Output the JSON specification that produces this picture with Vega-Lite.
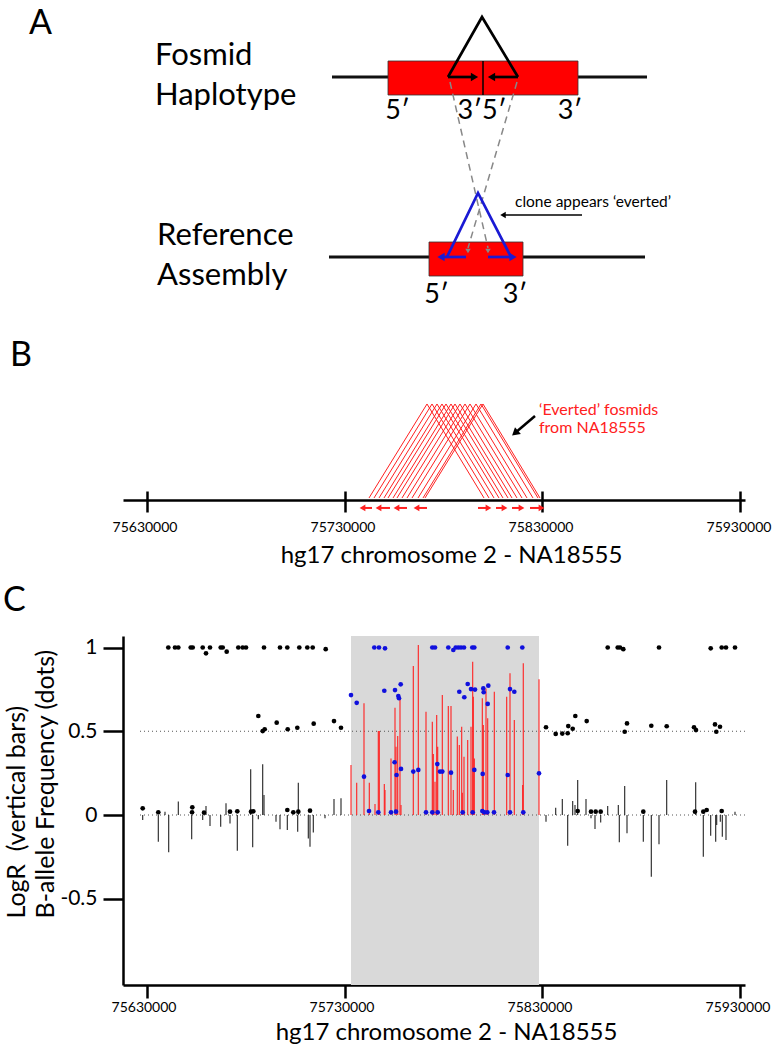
{
"$schema":"https://vega.github.io/schema/vega-lite/v6.json",
"width":622,"height":349,
"autosize":{"type":"none"},
"padding":{"left":123,"top":636,"right":28,"bottom":64},
"background":"#ffffff",
"config":{"view":{"stroke":null},"font":"Lato","text":{"font":"Lato"},
 "axis":{"labelFont":"Lato","titleFont":"Lato","titleFontWeight":"normal","labelColor":"#000000","titleColor":"#000000","domainColor":"#000000","tickColor":"#000000","grid":false,"labelOverlap":false,"labelBound":false}},
"datasets":{
 "c_region":[{"start":75733283,"end":75828232}],
 "c_ref":[{"level":0.5,"from":75626717,"to":75932273},{"level":0,"from":75626717,"to":75932273}],
 "c_logr":[
  {"pos":75628081,"logr":-0.03,"segment":"flank"},{"pos":75635960,"logr":-0.16,"segment":"flank"},{"pos":75639343,"logr":0.02,"segment":"flank"},{"pos":75641212,"logr":-0.223,"segment":"flank"},{"pos":75646061,"logr":0.08,"segment":"flank"},{"pos":75652828,"logr":-0.145,"segment":"flank"},{"pos":75658384,"logr":-0.03,"segment":"flank"},{"pos":75660050,"logr":0.054,"segment":"flank"},{"pos":75662071,"logr":-0.066,"segment":"flank"},{"pos":75667475,"logr":-0.07,"segment":"flank"},{"pos":75670152,"logr":0.07,"segment":"flank"},{"pos":75672172,"logr":-0.05,"segment":"flank"},{"pos":75675859,"logr":-0.213,"segment":"flank"},{"pos":75682626,"logr":0.273,"segment":"flank"},{"pos":75683636,"logr":-0.193,"segment":"flank"},{"pos":75686465,"logr":-0.026,"segment":"flank"},{"pos":75688687,"logr":0.303,"segment":"flank"},{"pos":75689343,"logr":0.12,"segment":"flank"},{"pos":75695404,"logr":-0.04,"segment":"flank"},{"pos":75697424,"logr":-0.085,"segment":"flank"},{"pos":75701111,"logr":-0.09,"segment":"flank"},{"pos":75706364,"logr":-0.1,"segment":"flank"},{"pos":75706667,"logr":0.193,"segment":"flank"},{"pos":75711717,"logr":-0.14,"segment":"flank"},{"pos":75712576,"logr":-0.19,"segment":"flank"},{"pos":75714242,"logr":-0.105,"segment":"flank"},{"pos":75720152,"logr":-0.02,"segment":"flank"},{"pos":75724697,"logr":0.095,"segment":"flank"},{"pos":75728232,"logr":0.1,"segment":"flank"},
  {"pos":75733283,"logr":0.299,"segment":"inversion"},{"pos":75736162,"logr":0.193,"segment":"inversion"},{"pos":75739848,"logr":0.667,"segment":"inversion"},{"pos":75742525,"logr":0.193,"segment":"inversion"},{"pos":75745404,"logr":0.066,"segment":"inversion"},{"pos":75747071,"logr":0.501,"segment":"inversion"},{"pos":75747576,"logr":0.501,"segment":"inversion"},{"pos":75750101,"logr":0.185,"segment":"inversion"},{"pos":75750455,"logr":0.15,"segment":"inversion"},{"pos":75753485,"logr":0.338,"segment":"inversion"},{"pos":75755505,"logr":0.641,"segment":"inversion"},{"pos":75756010,"logr":0.408,"segment":"inversion"},{"pos":75756869,"logr":0.472,"segment":"inversion"},{"pos":75758030,"logr":0.706,"segment":"inversion"},{"pos":75758535,"logr":0.06,"segment":"inversion"},{"pos":75764747,"logr":0.89,"segment":"inversion"},{"pos":75767273,"logr":1.015,"segment":"inversion"},{"pos":75771162,"logr":0.617,"segment":"inversion"},{"pos":75774343,"logr":0.557,"segment":"inversion"},{"pos":75774848,"logr":0.364,"segment":"inversion"},{"pos":75775707,"logr":0.199,"segment":"inversion"},{"pos":75776566,"logr":0.597,"segment":"inversion"},{"pos":75777071,"logr":0.408,"segment":"inversion"},{"pos":75779394,"logr":0.716,"segment":"inversion"},{"pos":75782424,"logr":0.651,"segment":"inversion"},{"pos":75783788,"logr":0.651,"segment":"inversion"},{"pos":75784949,"logr":0.15,"segment":"inversion"},{"pos":75786970,"logr":0.468,"segment":"inversion"},{"pos":75787980,"logr":0.418,"segment":"inversion"},{"pos":75789192,"logr":0.527,"segment":"inversion"},{"pos":75789495,"logr":0.133,"segment":"inversion"},{"pos":75790354,"logr":0.348,"segment":"inversion"},{"pos":75792222,"logr":0.448,"segment":"inversion"},{"pos":75793891,"logr":0.527,"segment":"inversion"},{"pos":75794747,"logr":0.915,"segment":"inversion"},{"pos":75795050,"logr":0.706,"segment":"inversion"},{"pos":75795556,"logr":0.338,"segment":"inversion"},{"pos":75799596,"logr":0.697,"segment":"inversion"},{"pos":75800101,"logr":0.537,"segment":"inversion"},{"pos":75801465,"logr":0.756,"segment":"inversion"},{"pos":75802323,"logr":0.577,"segment":"inversion"},{"pos":75805657,"logr":0.736,"segment":"inversion"},{"pos":75811919,"logr":0.706,"segment":"inversion"},{"pos":75813586,"logr":0.846,"segment":"inversion"},{"pos":75815758,"logr":0.567,"segment":"inversion"},{"pos":75819990,"logr":0.179,"segment":"inversion"},{"pos":75820293,"logr":0.906,"segment":"inversion"},{"pos":75828232,"logr":0.81,"segment":"inversion"},
  {"pos":75831768,"logr":-0.04,"segment":"flank"},{"pos":75836667,"logr":0.044,"segment":"flank"},{"pos":75839999,"logr":0.095,"segment":"flank"},{"pos":75842727,"logr":-0.183,"segment":"flank"},{"pos":75845252,"logr":0.084,"segment":"flank"},{"pos":75846414,"logr":0.06,"segment":"flank"},{"pos":75847778,"logr":0.209,"segment":"flank"},{"pos":75851970,"logr":0.095,"segment":"flank"},{"pos":75854495,"logr":-0.02,"segment":"flank"},{"pos":75856515,"logr":-0.084,"segment":"flank"},{"pos":75859394,"logr":-0.044,"segment":"flank"},{"pos":75862929,"logr":0.054,"segment":"flank"},{"pos":75868283,"logr":0.06,"segment":"flank"},{"pos":75868788,"logr":-0.163,"segment":"flank"},{"pos":75871515,"logr":0.173,"segment":"flank"},{"pos":75872677,"logr":-0.109,"segment":"flank"},{"pos":75880909,"logr":-0.159,"segment":"flank"},{"pos":75884949,"logr":-0.368,"segment":"flank"},{"pos":75888838,"logr":-0.175,"segment":"flank"},{"pos":75892727,"logr":0.209,"segment":"flank"},{"pos":75907373,"logr":0.195,"segment":"flank"},{"pos":75911212,"logr":-0.249,"segment":"flank"},{"pos":75914949,"logr":-0.124,"segment":"flank"},{"pos":75917475,"logr":-0.159,"segment":"flank"},{"pos":75917980,"logr":-0.06,"segment":"flank"},{"pos":75919798,"logr":-0.04,"segment":"flank"},{"pos":75920808,"logr":-0.13,"segment":"flank"},{"pos":75922677,"logr":-0.149,"segment":"flank"},{"pos":75927222,"logr":0.02,"segment":"flank"}
 ],
 "c_baf":[
  {"pos":75641010,"baf":1,"segment":"flank"},{"pos":75644394,"baf":1,"segment":"flank"},{"pos":75646061,"baf":1,"segment":"flank"},{"pos":75652323,"baf":1,"segment":"flank"},{"pos":75653333,"baf":1,"segment":"flank"},{"pos":75658384,"baf":1,"segment":"flank"},{"pos":75660050,"baf":0.965,"segment":"flank"},{"pos":75662071,"baf":1,"segment":"flank"},{"pos":75667475,"baf":1,"segment":"flank"},{"pos":75668485,"baf":1,"segment":"flank"},{"pos":75670505,"baf":0.975,"segment":"flank"},{"pos":75676364,"baf":1,"segment":"flank"},{"pos":75678586,"baf":1,"segment":"flank"},{"pos":75680253,"baf":1,"segment":"flank"},{"pos":75689343,"baf":1,"segment":"flank"},{"pos":75697424,"baf":1,"segment":"flank"},{"pos":75701111,"baf":1,"segment":"flank"},{"pos":75707172,"baf":1,"segment":"flank"},{"pos":75711212,"baf":1,"segment":"flank"},{"pos":75713939,"baf":1,"segment":"flank"},{"pos":75720505,"baf":0.99,"segment":"flank"},
  {"pos":75686465,"baf":0.591,"segment":"flank"},{"pos":75688687,"baf":0.501,"segment":"flank"},{"pos":75689697,"baf":0.512,"segment":"flank"},{"pos":75695758,"baf":0.551,"segment":"flank"},{"pos":75701313,"baf":0.512,"segment":"flank"},{"pos":75706162,"baf":0.521,"segment":"flank"},{"pos":75714444,"baf":0.545,"segment":"flank"},{"pos":75724697,"baf":0.561,"segment":"flank"},{"pos":75728232,"baf":0.521,"segment":"flank"},
  {"pos":75628081,"baf":0.04,"segment":"flank"},{"pos":75635960,"baf":0.016,"segment":"flank"},{"pos":75653131,"baf":0.046,"segment":"flank"},{"pos":75653000,"baf":0.016,"segment":"flank"},{"pos":75659040,"baf":0.014,"segment":"flank"},{"pos":75672172,"baf":0.02,"segment":"flank"},{"pos":75675859,"baf":0.022,"segment":"flank"},{"pos":75682778,"baf":0.02,"segment":"flank"},{"pos":75683939,"baf":0.022,"segment":"flank"},{"pos":75701111,"baf":0.03,"segment":"flank"},{"pos":75704141,"baf":0.016,"segment":"flank"},{"pos":75706667,"baf":0.02,"segment":"flank"},{"pos":75712576,"baf":0.026,"segment":"flank"},
  {"pos":75733283,"baf":0.716,"segment":"inversion"},{"pos":75736162,"baf":0.67,"segment":"inversion"},{"pos":75739848,"baf":0.229,"segment":"inversion"},{"pos":75742374,"baf":0.024,"segment":"inversion"},{"pos":75745050,"baf":1,"segment":"inversion"},{"pos":75747424,"baf":1,"segment":"inversion"},{"pos":75750455,"baf":0.995,"segment":"inversion"},{"pos":75747071,"baf":0.016,"segment":"inversion"},{"pos":75750101,"baf":0.742,"segment":"inversion"},{"pos":75753485,"baf":0.016,"segment":"inversion"},{"pos":75755505,"baf":0.746,"segment":"inversion"},{"pos":75755300,"baf":0.315,"segment":"inversion"},{"pos":75756010,"baf":0.02,"segment":"inversion"},{"pos":75756300,"baf":0.239,"segment":"inversion"},{"pos":75757172,"baf":0.71,"segment":"inversion"},{"pos":75757525,"baf":0.697,"segment":"inversion"},{"pos":75758384,"baf":0.78,"segment":"inversion"},{"pos":75758535,"baf":0.275,"segment":"inversion"},{"pos":75764747,"baf":0.259,"segment":"inversion"},{"pos":75767273,"baf":0.269,"segment":"inversion"},{"pos":75771162,"baf":0.016,"segment":"inversion"},{"pos":75774343,"baf":1,"segment":"inversion"},{"pos":75775707,"baf":1,"segment":"inversion"},{"pos":75774343,"baf":0.016,"segment":"inversion"},{"pos":75776869,"baf":0.304,"segment":"inversion"},{"pos":75777071,"baf":0.016,"segment":"inversion"},{"pos":75778232,"baf":0.259,"segment":"inversion"},{"pos":75779394,"baf":0.259,"segment":"inversion"},{"pos":75782424,"baf":1,"segment":"inversion"},{"pos":75784949,"baf":0.985,"segment":"inversion"},{"pos":75786162,"baf":1,"segment":"inversion"},{"pos":75787475,"baf":1,"segment":"inversion"},{"pos":75788838,"baf":1,"segment":"inversion"},{"pos":75790354,"baf":1,"segment":"inversion"},{"pos":75794545,"baf":1,"segment":"inversion"},{"pos":75795556,"baf":1,"segment":"inversion"},{"pos":75812424,"baf":1,"segment":"inversion"},{"pos":75819798,"baf":1,"segment":"inversion"},{"pos":75787980,"baf":0.736,"segment":"inversion"},{"pos":75790505,"baf":0.703,"segment":"inversion"},{"pos":75792222,"baf":0.782,"segment":"inversion"},{"pos":75793891,"baf":0.752,"segment":"inversion"},{"pos":75795909,"baf":0.749,"segment":"inversion"},{"pos":75800101,"baf":0.756,"segment":"inversion"},{"pos":75800300,"baf":0.733,"segment":"inversion"},{"pos":75802626,"baf":0.772,"segment":"inversion"},{"pos":75802323,"baf":0.663,"segment":"inversion"},{"pos":75813586,"baf":0.752,"segment":"inversion"},{"pos":75815758,"baf":0.736,"segment":"inversion"},{"pos":75783788,"baf":0.253,"segment":"inversion"},{"pos":75795556,"baf":0.269,"segment":"inversion"},{"pos":75799798,"baf":0.245,"segment":"inversion"},{"pos":75812424,"baf":0.239,"segment":"inversion"},{"pos":75828232,"baf":0.249,"segment":"inversion"},{"pos":75789697,"baf":0.016,"segment":"inversion"},{"pos":75794747,"baf":0.016,"segment":"inversion"},{"pos":75799596,"baf":0.024,"segment":"inversion"},{"pos":75800606,"baf":0.016,"segment":"inversion"},{"pos":75802121,"baf":0.016,"segment":"inversion"},{"pos":75805505,"baf":0.016,"segment":"inversion"},{"pos":75813586,"baf":0.016,"segment":"inversion"},{"pos":75820293,"baf":0.016,"segment":"inversion"},
  {"pos":75862929,"baf":1,"segment":"flank"},{"pos":75867980,"baf":1,"segment":"flank"},{"pos":75869141,"baf":1,"segment":"flank"},{"pos":75870808,"baf":0.99,"segment":"flank"},{"pos":75888838,"baf":1,"segment":"flank"},{"pos":75914949,"baf":0.995,"segment":"flank"},{"pos":75920505,"baf":1,"segment":"flank"},{"pos":75922677,"baf":1,"segment":"flank"},{"pos":75927222,"baf":1,"segment":"flank"},
  {"pos":75831768,"baf":0.524,"segment":"flank"},{"pos":75836667,"baf":0.484,"segment":"flank"},{"pos":75839999,"baf":0.486,"segment":"flank"},{"pos":75842727,"baf":0.488,"segment":"flank"},{"pos":75843000,"baf":0.531,"segment":"flank"},{"pos":75845252,"baf":0.515,"segment":"flank"},{"pos":75846566,"baf":0.591,"segment":"flank"},{"pos":75852323,"baf":0.561,"segment":"flank"},{"pos":75871515,"baf":0.497,"segment":"flank"},{"pos":75872677,"baf":0.547,"segment":"flank"},{"pos":75884949,"baf":0.533,"segment":"flank"},{"pos":75892727,"baf":0.53,"segment":"flank"},{"pos":75906515,"baf":0.524,"segment":"flank"},{"pos":75907525,"baf":0.507,"segment":"flank"},{"pos":75917121,"baf":0.541,"segment":"flank"},{"pos":75917778,"baf":0.497,"segment":"flank"},{"pos":75919646,"baf":0.527,"segment":"flank"},
  {"pos":75847778,"baf":0.024,"segment":"flank"},{"pos":75854495,"baf":0.02,"segment":"flank"},{"pos":75856869,"baf":0.02,"segment":"flank"},{"pos":75859394,"baf":0.02,"segment":"flank"},{"pos":75880909,"baf":0.02,"segment":"flank"},{"pos":75907020,"baf":0.02,"segment":"flank"},{"pos":75911212,"baf":0.02,"segment":"flank"},{"pos":75912929,"baf":0.03,"segment":"flank"},{"pos":75920505,"baf":0.024,"segment":"flank"}
 ],
 "b_fosmids":[
  {"fosmid":1,"step":1,"pos":75742374,"h":0},{"fosmid":1,"step":2,"pos":75771667,"h":1},{"fosmid":1,"step":3,"pos":75800455,"h":0},
  {"fosmid":2,"step":1,"pos":75744899,"h":0},{"fosmid":2,"step":2,"pos":75774192,"h":1},{"fosmid":2,"step":3,"pos":75802980,"h":0},
  {"fosmid":3,"step":1,"pos":75747424,"h":0},{"fosmid":3,"step":2,"pos":75776717,"h":1},{"fosmid":3,"step":3,"pos":75805505,"h":0},
  {"fosmid":4,"step":1,"pos":75749949,"h":0},{"fosmid":4,"step":2,"pos":75779242,"h":1},{"fosmid":4,"step":3,"pos":75808030,"h":0},
  {"fosmid":5,"step":1,"pos":75751970,"h":0},{"fosmid":5,"step":2,"pos":75781263,"h":1},{"fosmid":5,"step":3,"pos":75810051,"h":0},
  {"fosmid":6,"step":1,"pos":75754495,"h":0},{"fosmid":6,"step":2,"pos":75783788,"h":1},{"fosmid":6,"step":3,"pos":75812576,"h":0},
  {"fosmid":7,"step":1,"pos":75756515,"h":0},{"fosmid":7,"step":2,"pos":75785808,"h":1},{"fosmid":7,"step":3,"pos":75814596,"h":0},
  {"fosmid":8,"step":1,"pos":75759040,"h":0},{"fosmid":8,"step":2,"pos":75788333,"h":1},{"fosmid":8,"step":3,"pos":75817121,"h":0},
  {"fosmid":9,"step":1,"pos":75761566,"h":0},{"fosmid":9,"step":2,"pos":75790859,"h":1},{"fosmid":9,"step":3,"pos":75819646,"h":0},
  {"fosmid":10,"step":1,"pos":75764091,"h":0},{"fosmid":10,"step":2,"pos":75793384,"h":1},{"fosmid":10,"step":3,"pos":75822172,"h":0},
  {"fosmid":11,"step":1,"pos":75767121,"h":0},{"fosmid":11,"step":2,"pos":75796414,"h":1},{"fosmid":11,"step":3,"pos":75825202,"h":0},
  {"fosmid":12,"step":1,"pos":75769646,"h":0},{"fosmid":12,"step":2,"pos":75798939,"h":1},{"fosmid":12,"step":3,"pos":75827727,"h":0},
  {"fosmid":13,"step":1,"pos":75770656,"h":0},{"fosmid":13,"step":2,"pos":75799949,"h":1},{"fosmid":13,"step":3,"pos":75828737,"h":0}
 ],
 "b_reads":[
  {"tail":75743889,"head":75739091,"h":-0.106,"dir":"left"},{"tail":75752980,"head":75747172,"h":-0.106,"dir":"left"},{"tail":75761566,"head":75756263,"h":-0.106,"dir":"left"},{"tail":75771667,"head":75766364,"h":-0.106,"dir":"left"},
  {"tail":75797424,"head":75802727,"h":-0.106,"dir":"right"},{"tail":75806515,"head":75810808,"h":-0.106,"dir":"right"},{"tail":75814596,"head":75819394,"h":-0.106,"dir":"right"},{"tail":75823687,"head":75829495,"h":-0.106,"dir":"right"}
 ],
 "b_note":[{"label":"‘Everted’ fosmids","pos":75828232,"h":0.883},{"label":"from NA18555","pos":75828232,"h":0.691}],
 "b_pointer":[{"pos":75826214,"pos2":75816119,"h":0.872,"h2":0.691}],
 "a_strands":[{"row":"haplotype","u1":-15.1,"u2":16.4,"w":18},{"row":"reference","u1":-15.4,"u2":16.2,"w":0}],
 "a_blocks":[{"row":"haplotype","u1":-9.5,"u2":9.5,"w1":16.2,"w2":19.6},{"row":"reference","u1":-5.4,"u2":4.0,"w1":-1.9,"w2":1.5}],
 "a_junction":[{"u":0,"w1":16.2,"w2":19.6}],
 "a_clones":[{"clone":"fosmid","step":1,"u":-3.5,"w":18},{"clone":"fosmid","step":2,"u":-0.1,"w":24},{"clone":"fosmid","step":3,"u":3.5,"w":18},{"clone":"reference","step":1,"u":-3.6,"w":0},{"clone":"reference","step":2,"u":-0.5,"w":6.4},{"clone":"reference","step":3,"u":2.8,"w":0}],
 "a_arrows":[{"clone":"fosmid","tail":-3.5,"head":-0.85,"w":18,"dir":"right"},{"clone":"fosmid","tail":3.5,"head":0.85,"w":18,"dir":"left"},{"clone":"reference","tail":-1.7,"head":-4.2,"w":0,"dir":"left"},{"clone":"reference","tail":0.5,"head":3.0,"w":0,"dir":"right"}],
 "a_mapping":[{"end":"first","step":1,"u":-3.3,"w":17.5},{"end":"first","step":2,"u":0.5,"w":0.9},{"end":"second","step":1,"u":3.4,"w":17.5},{"end":"second","step":2,"u":-1.5,"w":0.9}],
 "a_mapping_heads":[{"u":0.5,"w":0.6},{"u":-1.5,"w":0.6}],
 "a_note_arrow":[{"tail":9.9,"head":2.0,"w":4.2,"dir":"left"}],
 "a_row_labels":[{"label":"Fosmid","u":-32.8,"w":19.2},{"label":"Haplotype","u":-32.8,"w":15.2},{"label":"Reference","u":-32.6,"w":1.2},{"label":"Assembly","u":-32.6,"w":-2.8}],
 "a_end_labels":[{"label":"5′","u":-8.55,"w":13.85},{"label":"3′5′","u":-0.1,"w":13.85},{"label":"3′","u":8.7,"w":13.85},{"label":"5′","u":-4.65,"w":-4.6},{"label":"3′","u":3.2,"w":-4.6}],
 "a_note":[{"label":"clone appears ‘everted’","u":3.2,"w":5.0}],
 "panel_letters":[{"label":"A","u":-45.4,"w":22.3},{"label":"B","u":-47.3,"w":-10.9},{"label":"C","u":-48,"w":-35.4}]
},
"resolve":{"scale":{"x":"independent","y":"independent","color":"independent","shape":"independent"},"axis":{"x":"independent","y":"independent"}},
"layer":[
 {
  "resolve":{"scale":{"color":"independent"}},
  "layer":[
   {"data":{"name":"c_region"},"mark":{"type":"rect","color":"#d9d9d9"},
    "encoding":{"x":{"field":"start","type":"quantitative"},"x2":{"field":"end"},"y":{"datum":-1.0149,"type":"quantitative"},"y2":{"datum":1.0687}}},
   {"data":{"name":"c_ref"},"mark":{"type":"rule","color":"#555555","strokeWidth":1,"strokeDash":[1,3]},
    "encoding":{"x":{"field":"from","type":"quantitative"},"x2":{"field":"to"},"y":{"field":"level","type":"quantitative"}}},
   {"data":{"name":"c_logr"},"mark":{"type":"rule","strokeWidth":1.1},
    "encoding":{
     "x":{"field":"pos","type":"quantitative","scale":{"domain":[75618131,75932273],"nice":false,"zero":false},
      "axis":{"orient":"bottom","values":[75630000,75730000,75830000,75930000],"format":"d","title":"hg17 chromosome 2 - NA18555","tickSize":13,"tickWidth":2.5,"domainWidth":2.5,"labelFontSize":14,"labelPadding":2,"labelOffset":-3,"labelFlush":false,"titleFontSize":24,"titleX":323,"titleY":54,"titleAlign":"center","titleBaseline":"alphabetic"}},
     "y":{"field":"logr","type":"quantitative","scale":{"domain":[-1.0149,1.0687],"nice":false,"zero":false},
      "axis":{"orient":"left","values":[1,0.5,0,-0.5],"labelExpr":"'' + datum.value","tickSize":20,"tickWidth":2.5,"domainWidth":2.5,"labelFontSize":21,"labelPadding":6,"title":["LogR\u00a0 (vertical bars)","B-allele Frequency (dots)"],"titleFontSize":25,"titleAngle":270,"titleAlign":"left","titleBaseline":"top","titleX":-119,"titleY":282,"titleLineHeight":29}},
     "y2":{"datum":0},
     "color":{"field":"segment","type":"nominal","scale":{"domain":["flank","inversion"],"range":["#222222","#ff2020"]},"legend":null}}},
   {"data":{"name":"c_baf"},"mark":{"type":"circle","size":22,"opacity":1},
    "encoding":{"x":{"field":"pos","type":"quantitative"},"y":{"field":"baf","type":"quantitative"},
     "color":{"field":"segment","type":"nominal","scale":{"domain":["flank","inversion"],"range":["#000000","#1010dd"]},"legend":null}}}
  ]
 },
 {
  "layer":[
   {"data":{"name":"b_fosmids"},"mark":{"type":"line","color":"#ff2020","strokeWidth":1},
    "encoding":{
     "x":{"field":"pos","type":"quantitative","scale":{"domain":[75618131,75932273],"nice":false,"zero":false},
      "axis":{"orient":"bottom","offset":-485,"values":[75630000,75730000,75830000,75930000],"format":"d","title":"hg17 chromosome 2 - NA18555","tickSize":12,"tickWidth":2.5,"domainWidth":2.5,"labelFontSize":14,"labelPadding":8,"labelOffset":-2,"labelFlush":false,"titleFontSize":24,"titleX":328,"titleY":62,"titleAlign":"center","titleBaseline":"alphabetic"}},
     "y":{"field":"h","type":"quantitative","scale":{"domain":[-5.18085,-1.46809],"nice":false,"zero":false},"axis":null},
     "detail":{"field":"fosmid","type":"nominal"},
     "order":{"field":"step","type":"quantitative"}}},
   {"data":{"name":"b_note"},"mark":{"type":"text","align":"left","baseline":"alphabetic","fontSize":16,"color":"#ff2020","font":"Lato"},
    "encoding":{"x":{"field":"pos","type":"quantitative"},"y":{"field":"h","type":"quantitative","axis":null},"text":{"field":"label"}}},
   {"data":{"name":"b_pointer"},"mark":{"type":"rule","strokeWidth":2.5,"color":"#000000"},
    "encoding":{"x":{"field":"pos","type":"quantitative"},"x2":{"field":"pos2"},"y":{"field":"h","type":"quantitative","axis":null},"y2":{"field":"h2"}}},
   {"data":{"name":"b_pointer"},"mark":{"type":"point","shape":"triangle-up","filled":true,"size":80,"color":"#000000","angle":229,"opacity":1},
    "encoding":{"x":{"field":"pos2","type":"quantitative"},"y":{"field":"h2","type":"quantitative","axis":null}}}
  ]
 },
 {
  "layer":[
   {"data":{"name":"b_reads"},"mark":{"type":"rule","strokeWidth":2,"color":"#ff2020"},
    "encoding":{
     "x":{"field":"tail","type":"quantitative","scale":{"domain":[75618131,75932273],"nice":false,"zero":false},
      "axis":{"orient":"top","offset":136,"values":[75630000,75730000,75830000,75930000],"labels":false,"domain":false,"ticks":true,"tickSize":9,"tickWidth":2.5,"title":null}},
     "x2":{"field":"head"},
     "y":{"field":"h","type":"quantitative","scale":{"domain":[-5.18085,-1.46809],"nice":false,"zero":false},"axis":null}}},
   {"data":{"name":"b_reads"},"mark":{"type":"point","filled":true,"size":45,"color":"#ff2020","opacity":1},
    "encoding":{"x":{"field":"head","type":"quantitative"},"y":{"field":"h","type":"quantitative","axis":null},
     "shape":{"field":"dir","type":"nominal","scale":{"domain":["left","right"],"range":["triangle-left","triangle-right"]},"legend":null}}}
  ]
 },
 {
  "layer":[
   {"data":{"name":"a_strands"},"mark":{"type":"rule","color":"#111111","strokeWidth":3},
    "encoding":{"x":{"field":"u1","type":"quantitative","scale":{"domain":[-36,26.2],"nice":false,"zero":false},"axis":null},"x2":{"field":"u2"},
     "y":{"field":"w","type":"quantitative","scale":{"domain":[-72.8,-37.9],"nice":false,"zero":false},"axis":null}}},
   {"data":{"name":"a_blocks"},"mark":{"type":"rect","fill":"#ff0000","stroke":"#333333","strokeWidth":0.8},
    "encoding":{"x":{"field":"u1","type":"quantitative","axis":null},"x2":{"field":"u2"},"y":{"field":"w1","type":"quantitative","axis":null},"y2":{"field":"w2"}}},
   {"data":{"name":"a_junction"},"mark":{"type":"rule","color":"#000000","strokeWidth":1.5},
    "encoding":{"x":{"field":"u","type":"quantitative","axis":null},"y":{"field":"w1","type":"quantitative","axis":null},"y2":{"field":"w2"}}},
   {"data":{"name":"a_mapping"},"mark":{"type":"line","color":"#888888","strokeWidth":1.5,"strokeDash":[7,5]},
    "encoding":{"x":{"field":"u","type":"quantitative","axis":null},"y":{"field":"w","type":"quantitative","axis":null},"detail":{"field":"end","type":"nominal"},"order":{"field":"step","type":"quantitative"}}},
   {"data":{"name":"a_mapping_heads"},"mark":{"type":"point","shape":"triangle-down","filled":true,"size":30,"color":"#888888","opacity":1},
    "encoding":{"x":{"field":"u","type":"quantitative","axis":null},"y":{"field":"w","type":"quantitative","axis":null}}},
   {"data":{"name":"a_clones"},"mark":{"type":"line","strokeWidth":2.7},
    "encoding":{"x":{"field":"u","type":"quantitative","axis":null},"y":{"field":"w","type":"quantitative","axis":null},
     "color":{"field":"clone","type":"nominal","scale":{"domain":["fosmid","reference"],"range":["#000000","#1a1ad4"]},"legend":null},
     "order":{"field":"step","type":"quantitative"}}},
   {"data":{"name":"a_arrows"},"mark":{"type":"rule","strokeWidth":2.7},
    "encoding":{"x":{"field":"tail","type":"quantitative","axis":null},"x2":{"field":"head"},"y":{"field":"w","type":"quantitative","axis":null},
     "color":{"field":"clone","type":"nominal","legend":null}}},
   {"data":{"name":"a_arrows"},"mark":{"type":"point","filled":true,"size":70,"opacity":1},
    "encoding":{"x":{"field":"head","type":"quantitative","axis":null},"y":{"field":"w","type":"quantitative","axis":null},
     "color":{"field":"clone","type":"nominal","legend":null},
     "shape":{"field":"dir","type":"nominal","scale":{"domain":["left","right"],"range":["triangle-left","triangle-right"]},"legend":null}}},
   {"data":{"name":"a_note_arrow"},"mark":{"type":"rule","strokeWidth":1.5,"color":"#000000"},
    "encoding":{"x":{"field":"tail","type":"quantitative","axis":null},"x2":{"field":"head"},"y":{"field":"w","type":"quantitative","axis":null}}},
   {"data":{"name":"a_note_arrow"},"mark":{"type":"point","filled":true,"size":40,"opacity":1,"color":"#000000"},
    "encoding":{"x":{"field":"head","type":"quantitative","axis":null},"y":{"field":"w","type":"quantitative","axis":null},
     "shape":{"field":"dir","type":"nominal","legend":null}}},
   {"data":{"name":"a_row_labels"},"mark":{"type":"text","align":"left","baseline":"alphabetic","fontSize":31,"font":"Lato","color":"#000000"},
    "encoding":{"x":{"field":"u","type":"quantitative","axis":null},"y":{"field":"w","type":"quantitative","axis":null},"text":{"field":"label"}}},
   {"data":{"name":"a_end_labels"},"mark":{"type":"text","align":"center","baseline":"alphabetic","fontSize":27,"font":"Lato","color":"#000000"},
    "encoding":{"x":{"field":"u","type":"quantitative","axis":null},"y":{"field":"w","type":"quantitative","axis":null},"text":{"field":"label"}}},
   {"data":{"name":"a_note"},"mark":{"type":"text","align":"left","baseline":"alphabetic","fontSize":15.5,"font":"Lato","color":"#000000"},
    "encoding":{"x":{"field":"u","type":"quantitative","axis":null},"y":{"field":"w","type":"quantitative","axis":null},"text":{"field":"label"}}},
   {"data":{"name":"panel_letters"},"mark":{"type":"text","align":"left","baseline":"alphabetic","fontSize":34,"font":"Lato","color":"#000000"},
    "encoding":{"x":{"field":"u","type":"quantitative","axis":null},"y":{"field":"w","type":"quantitative","axis":null},"text":{"field":"label"}}}
  ]
 }
]
}
